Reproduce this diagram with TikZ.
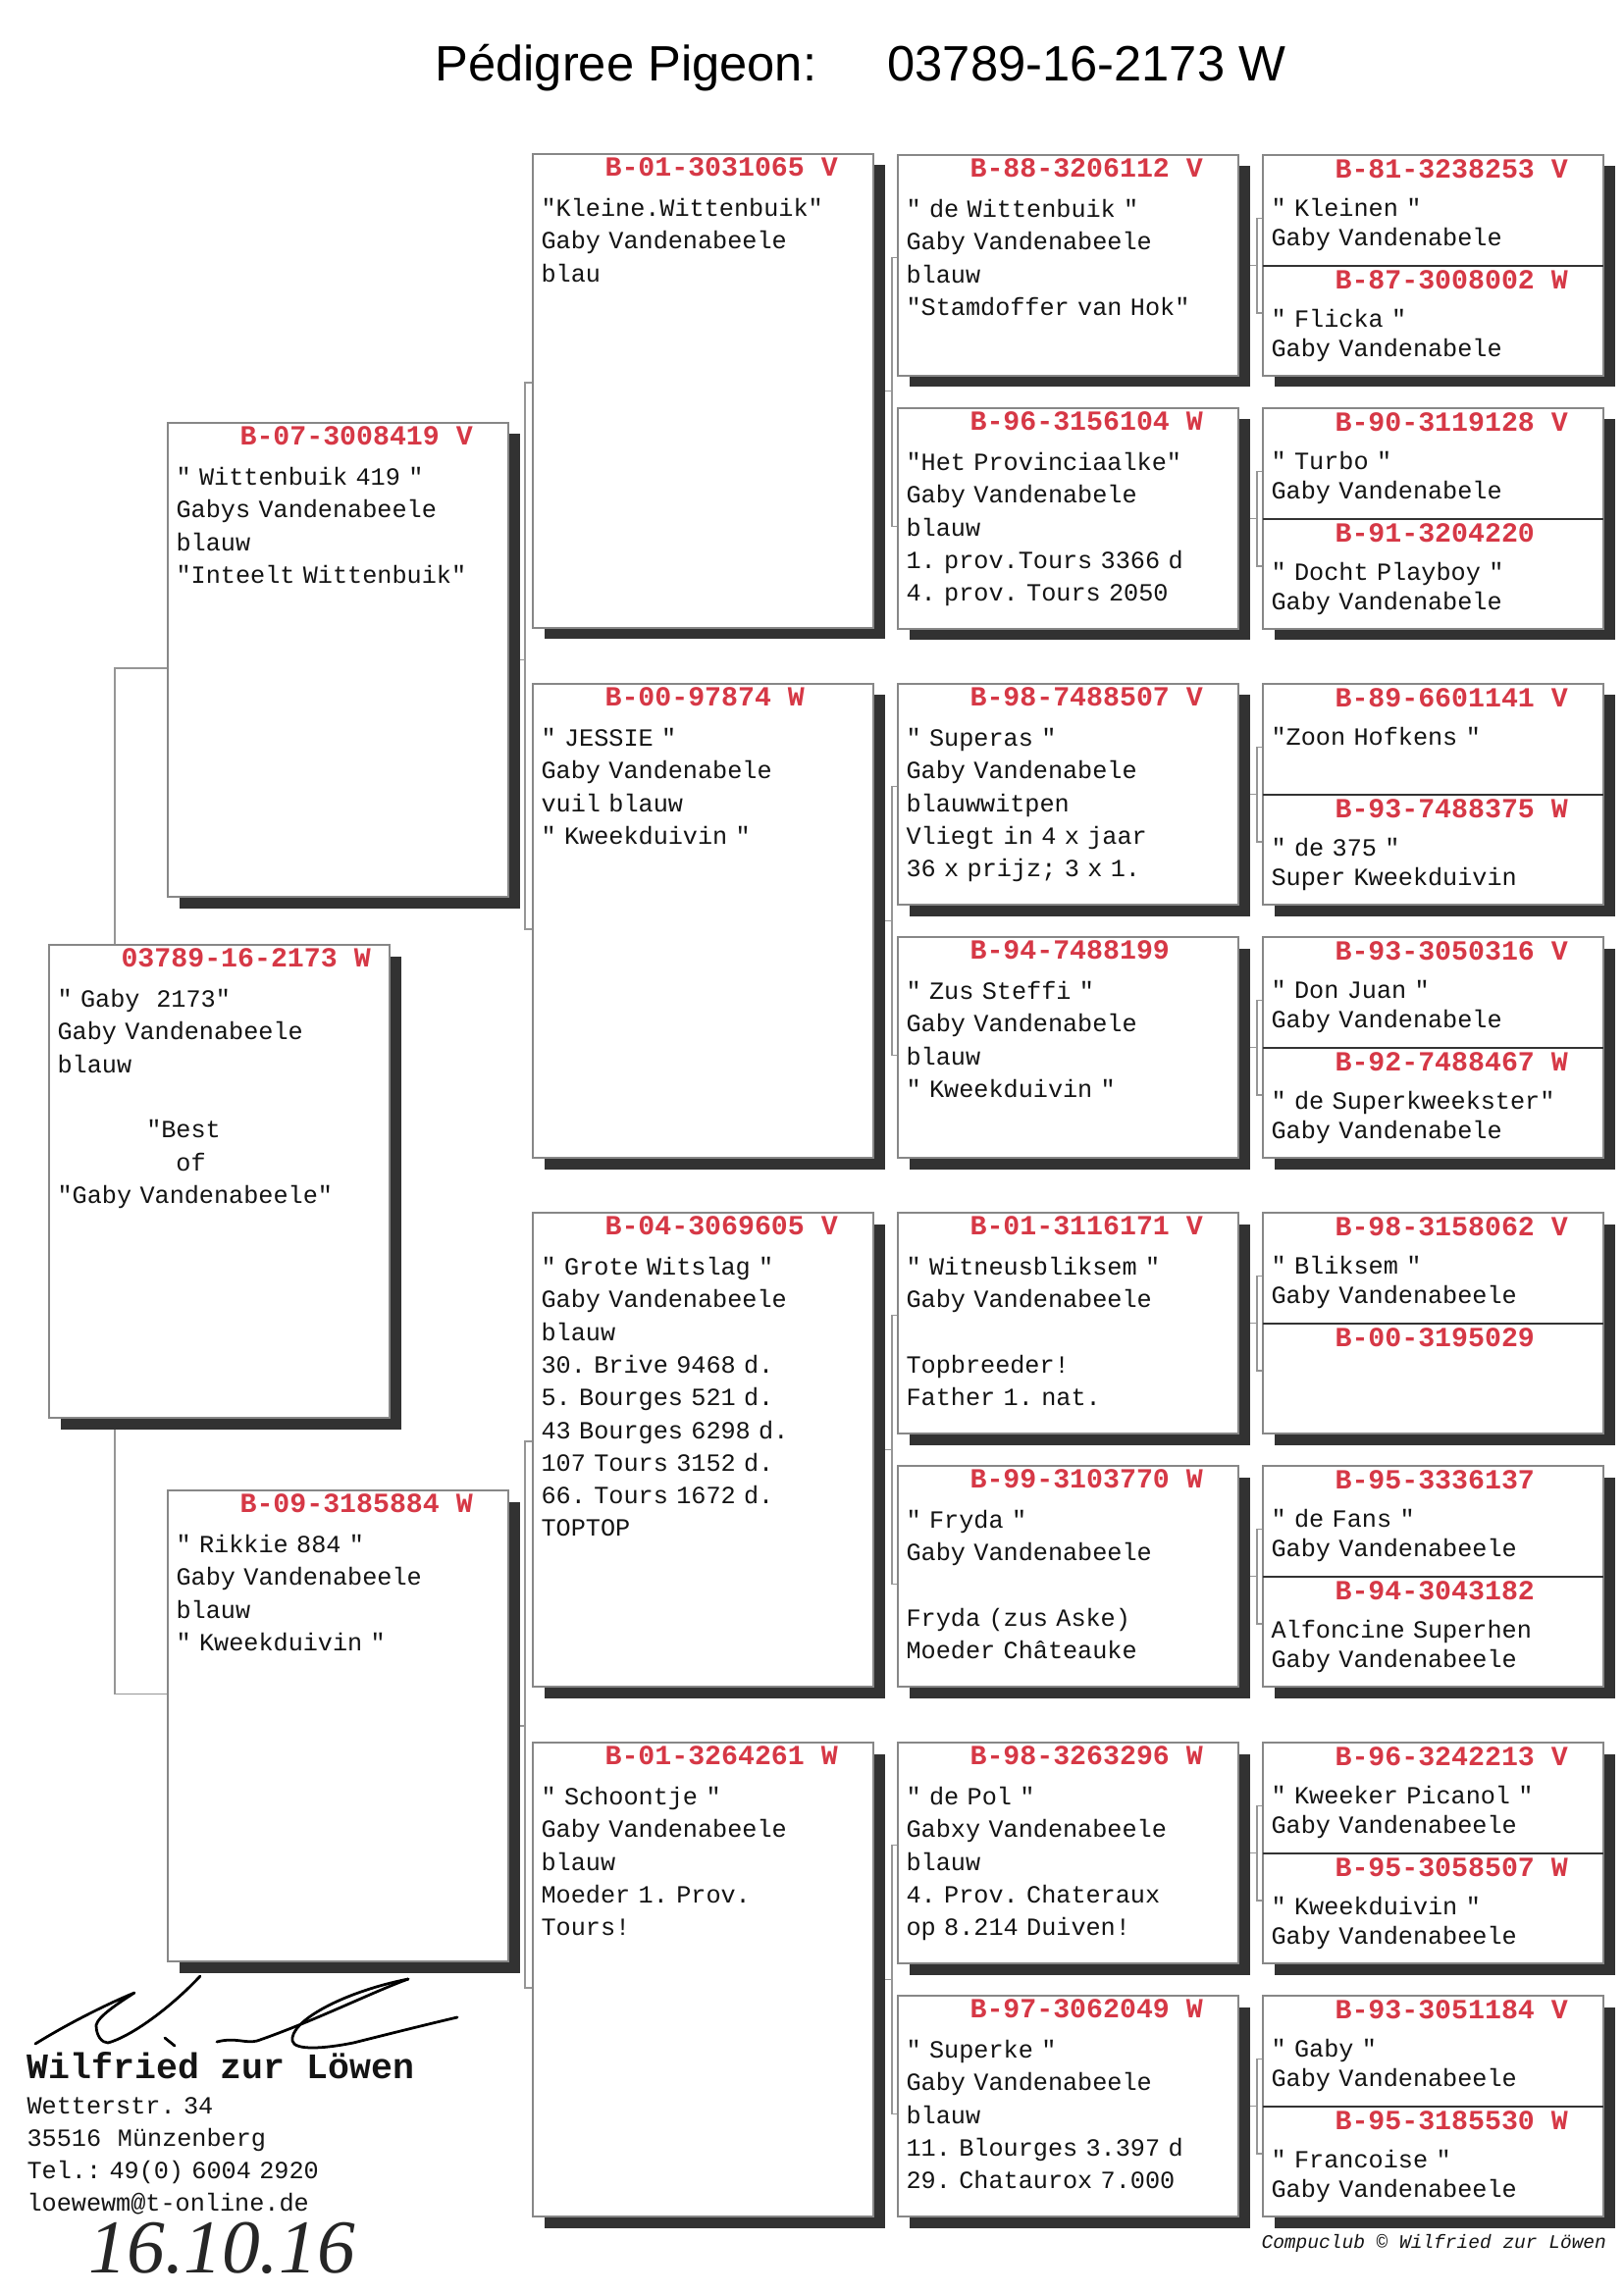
\documentclass[tikz,border=0pt]{standalone}
\usepackage{fontspec}
\setmainfont{Liberation Sans}
\newfontfamily\mono{Liberation Mono}
\newfontfamily\handfont{Liberation Serif}
\AtBeginDocument{\frenchspacing}
\newlength\pxl
\setlength\pxl{0.0127cm}
\definecolor{labred}{RGB}{214,56,70}
\definecolor{shade}{RGB}{50,50,50}
\definecolor{rim}{RGB}{135,135,135}
\definecolor{wirec}{RGB}{150,150,150}
\definecolor{ink}{RGB}{20,20,20}
\pgfdeclarelayer{bg}
\pgfdeclarelayer{wires}
\pgfsetlayers{bg,wires,main}
\tikzset{
  shadowed/.style={preaction={draw=none,fill=shade,transform canvas={shift={(11.5\pxl,-11.5\pxl)}}}},
  pbox/.style={rectangle,draw=rim,line width=0.5pt,fill=white,inner sep=0pt,outer sep=0pt,minimum width=347\pxl,anchor=north west,shadowed},
  ringno/.style={anchor=base west,inner sep=0pt,text=labred,font=\mono\bfseries\fontsize{10.2}{12}\selectfont},
  bodytxt/.style={anchor=base west,inner sep=0pt,text=ink,text width=336\pxl,align=left,font=\mono\fontsize{9.1}{12.03}\selectfont},
  halftxt/.style={bodytxt,font=\mono\fontsize{9.1}{11.0}\selectfont},
  wire/.style={draw=wirec,line width=0.5pt},
  divider/.style={draw=black!80,line width=0.8pt},
  titletxt/.style={anchor=base west,inner sep=0pt,text=black,font=\fontsize{18.3}{22}\selectfont},
  nametxt/.style={anchor=base west,inner sep=0pt,text=ink,font=\mono\bfseries\fontsize{13.2}{15}\selectfont},
  addrtxt/.style={anchor=base west,inner sep=0pt,text=ink,text width=500\pxl,align=left,font=\mono\fontsize{9.1}{12.03}\selectfont},
  credittxt/.style={anchor=base west,inner sep=0pt,text=ink,font=\mono\itshape\fontsize{7.05}{9}\selectfont},
  datetxt/.style={anchor=base west,inner sep=0pt,text depth=0pt,text=black!85,font=\handfont\itshape\fontsize{28}{28}\selectfont},
  sig/.style={draw=black,line width=1pt,line cap=round,line join=round},
}
\newcommand\pedbox[6]{%
  \node[pbox,minimum height=#4\pxl] (#1) at (#2,#3) {};
  \node[ringno] (#1n) at ([xshift=73\pxl,yshift=-22.5\pxl]#1.north west) {#5};
  \node[bodytxt] (#1b) at ([xshift=8\pxl,yshift=-63.5\pxl]#1.north west) {#6};
}
\newcommand\halfbox[6]{%
  \node[pbox,minimum height=#4\pxl] (#1) at (#2,#3) {};
  \node[ringno] (#1n) at ([xshift=73\pxl,yshift=-23.5\pxl]#1.north west) {#5};
  \node[halftxt] (#1b) at ([xshift=8\pxl,yshift=-62.5\pxl]#1.north west) {#6};
}
\begin{document}
\begin{tikzpicture}[x=0.0127cm,y=-0.0127cm]
\useasboundingbox (0,0) rectangle (1654,2338);
\begin{pgfonlayer}{bg}
  \fill[white] (0,0) rectangle (1654,2338);
\end{pgfonlayer}

% title
\node[titletxt] (ttl) at (443,83) {Pédigree Pigeon:};
\node[titletxt] (ttlring) at (904,83) {03789-16-2173 W};

% generation 1 and 2
\pedbox{R}{50}{963}{482}{03789-16-2173 W}{" Gaby\ \ 2173"\\Gaby Vandenabeele\\blauw\\\mbox{}\\\hspace*{3.6em}"Best\\\hspace*{4.8em}of\\"Gaby Vandenabeele"}
\pedbox{P1}{171}{431}{483}{B-07-3008419 V}{" Wittenbuik 419 "\\Gabys Vandenabeele\\blauw\\"Inteelt Wittenbuik"}
\pedbox{P2}{171}{1519}{480}{B-09-3185884 W}{" Rikkie 884 "\\Gaby Vandenabeele\\blauw\\" Kweekduivin "}

% generation 3
\pedbox{G1}{543}{157}{483}{B-01-3031065 V}{"Kleine.Wittenbuik"\\Gaby Vandenabeele\\blau}
\pedbox{G2}{543}{697}{483}{B-00-97874 W}{" JESSIE "\\Gaby Vandenabele\\vuil blauw\\" Kweekduivin "}
\pedbox{G3}{543}{1236}{483}{B-04-3069605 V}{" Grote Witslag "\\Gaby Vandenabeele\\blauw\\30. Brive 9468 d.\\5. Bourges 521 d.\\43 Bourges 6298 d.\\107 Tours 3152 d.\\66. Tours 1672 d.\\TOPTOP}
\pedbox{G4}{543}{1776}{483}{B-01-3264261 W}{" Schoontje "\\Gaby Vandenabeele\\blauw\\Moeder 1. Prov.\\Tours!}

% generation 4
\pedbox{C0}{915}{158}{225}{B-88-3206112 V}{" de Wittenbuik "\\Gaby Vandenabeele\\blauw\\"Stamdoffer van Hok"}
\pedbox{C1}{915}{416}{225}{B-96-3156104 W}{"Het Provinciaalke"\\Gaby Vandenabele\\blauw\\1. prov.Tours 3366 d\\4. prov. Tours 2050}
\pedbox{C2}{915}{697}{225}{B-98-7488507 V}{" Superas "\\Gaby Vandenabele\\blauwwitpen\\Vliegt in 4 x jaar\\36 x prijz; 3 x 1.}
\pedbox{C3}{915}{955}{225}{B-94-7488199}{" Zus Steffi "\\Gaby Vandenabele\\blauw\\" Kweekduivin "}
\pedbox{C4}{915}{1236}{225}{B-01-3116171 V}{" Witneusbliksem "\\Gaby Vandenabeele\\\mbox{}\\Topbreeder!\\Father 1. nat.}
\pedbox{C5}{915}{1494}{225}{B-99-3103770 W}{" Fryda "\\Gaby Vandenabeele\\\mbox{}\\Fryda (zus Aske)\\Moeder Châteauke}
\pedbox{C6}{915}{1776}{225}{B-98-3263296 W}{" de Pol "\\Gabxy Vandenabeele\\blauw\\4. Prov. Chateraux\\op 8.214 Duiven!}
\pedbox{C7}{915}{2034}{225}{B-97-3062049 W}{" Superke "\\Gaby Vandenabeele\\blauw\\11. Blourges 3.397 d\\29. Chataurox 7.000}

% generation 5
\halfbox{K0a}{1287}{158}{113}{B-81-3238253 V}{" Kleinen "\\Gaby Vandenabele}
\halfbox{K0b}{1287}{271}{112}{B-87-3008002 W}{" Flicka "\\Gaby Vandenabele}
\halfbox{K1a}{1287}{416}{113}{B-90-3119128 V}{" Turbo "\\Gaby Vandenabele}
\halfbox{K1b}{1287}{529}{112}{B-91-3204220}{" Docht Playboy "\\Gaby Vandenabele}
\halfbox{K2a}{1287}{697}{113}{B-89-6601141 V}{"Zoon Hofkens "}
\halfbox{K2b}{1287}{810}{112}{B-93-7488375 W}{" de 375 "\\Super Kweekduivin}
\halfbox{K3a}{1287}{955}{113}{B-93-3050316 V}{" Don Juan "\\Gaby Vandenabele}
\halfbox{K3b}{1287}{1068}{112}{B-92-7488467 W}{" de Superkweekster"\\Gaby Vandenabele}
\halfbox{K4a}{1287}{1236}{113}{B-98-3158062 V}{" Bliksem "\\Gaby Vandenabeele}
\node[pbox,minimum height=112\pxl] (K4b) at (1287,1349) {};
\node[ringno] (K4bn) at ([xshift=73\pxl,yshift=-23.5\pxl]K4b.north west) {B-00-3195029};
\halfbox{K5a}{1287}{1494}{113}{B-95-3336137}{" de Fans "\\Gaby Vandenabeele}
\halfbox{K5b}{1287}{1607}{112}{B-94-3043182}{Alfoncine Superhen\\Gaby Vandenabeele}
\halfbox{K6a}{1287}{1776}{113}{B-96-3242213 V}{" Kweeker Picanol "\\Gaby Vandenabeele}
\halfbox{K6b}{1287}{1889}{112}{B-95-3058507 W}{" Kweekduivin "\\Gaby Vandenabeele}
\halfbox{K7a}{1287}{2034}{113}{B-93-3051184 V}{" Gaby "\\Gaby Vandenabeele}
\halfbox{K7b}{1287}{2147}{112}{B-95-3185530 W}{" Francoise "\\Gaby Vandenabeele}

\foreach \kk in {0,...,7} {
  \draw[divider] (K\kk b.north west) -- (K\kk b.north east);
}

% connectors
\begin{pgfonlayer}{wires}
  \draw[wire] ([yshift=-8.5\pxl]P1.west) -- ++(-54,0) |- ([yshift=32.5\pxl]P2.west);
  \draw[wire] (P1.east) -- ++(17,0);
  \draw[wire] ([yshift=8.5\pxl]G1.west) -- ++(-8,0) |- ([yshift=-8.5\pxl]G2.west);
  \draw[wire] (P2.east) -- ++(17,0);
  \draw[wire] ([yshift=8.5\pxl]G3.west) -- ++(-8,0) |- ([yshift=-8.5\pxl]G4.west);
  \foreach \g/\a/\b in {G1/C0/C1, G2/C2/C3, G3/C4/C5, G4/C6/C7} {
    \draw[wire] (\g.east) -- ++(19,0);
    \draw[wire] ([yshift=8\pxl]\a.west) -- ++(-6,0) |- ([yshift=-8\pxl]\b.west);
  }
  \foreach \kk in {0,...,7} {
    \draw[wire] (C\kk.east) -- ++(18,0);
    \draw[wire] ([yshift=-8\pxl]K\kk a.west) -- ++(-6,0) |- ([yshift=8\pxl]K\kk b.west);
  }
\end{pgfonlayer}

% footer
\node[credittxt] (credit) at (1285,2291) {Compuclub © Wilfried zur Löwen};
\draw[sig] (36,2083) .. controls (70,2062) and (110,2042) .. (137,2031)
  .. controls (120,2042) and (100,2055) .. (98,2064)
  .. controls (98,2075) and (104,2082) .. (110,2082)
  .. controls (135,2075) and (175,2045) .. (204,2014);
\draw[sig] (168,2077) -- (178,2085);
\draw[sig] (221,2081) .. controls (240,2076) and (250,2083) .. (262,2080)
  .. controls (320,2060) and (380,2030) .. (416,2017);
\draw[sig] (416,2017) .. controls (350,2030) and (295,2060) .. (298,2080)
  .. controls (300,2090) and (330,2088) .. (360,2082)
  .. controls (400,2072) and (440,2062) .. (466,2056);
\node[nametxt] (owner) at (27,2118) {Wilfried zur Löwen};
\node[addrtxt] (addr) at (27,2154) {Wetterstr. 34\\35516\ \ Münzenberg\\Tel.: 49(0) 6004 2920\\loewewm@t-online.de};
\node[datetxt] (date) at (90,2316) {16.10.16};
\end{tikzpicture}
\end{document}
